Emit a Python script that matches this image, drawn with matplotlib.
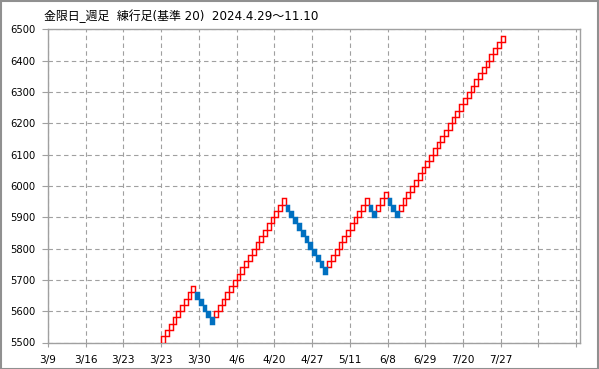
import matplotlib
matplotlib.use("Agg")
import matplotlib.pyplot as plt
from matplotlib.patches import Rectangle

# ---- data ----
title_text = "金限日_週足  練行足(基準 20)  2024.4.29～11.10"
box_size = 20
first_index = 30
brick_low = [
    5500, 5520, 5540, 5560, 5580, 5600, 5620, 5640, 5660,            # up
    5640, 5620, 5600, 5580, 5560,                                      # down
    5580, 5600, 5620, 5640, 5660, 5680, 5700, 5720, 5740, 5760,
    5780, 5800, 5820, 5840, 5860, 5880, 5900, 5920, 5940,              # up
    5920, 5900, 5880, 5860, 5840, 5820, 5800, 5780, 5760, 5740, 5720,  # down
    5740, 5760, 5780, 5800, 5820, 5840, 5860, 5880, 5900, 5920, 5940,  # up
    5920, 5900,                                                        # down
    5920, 5940, 5960,                                                  # up
    5940, 5920, 5900,                                                  # down
    5920, 5940, 5960, 5980, 6000, 6020, 6040, 6060, 6080, 6100,
    6120, 6140, 6160, 6180, 6200, 6220, 6240, 6260, 6280, 6300,
    6320, 6340, 6360, 6380, 6400, 6420, 6440, 6460,                    # up
]
brick_up = (
    [True] * 9 + [False] * 5 + [True] * 19 + [False] * 11 + [True] * 11
    + [False] * 2 + [True] * 3 + [False] * 3 + [True] * 28
)
x_tick_pos = list(range(0, 141, 10))
x_tick_labels = ["3/9", "3/16", "3/23", "3/23", "3/30", "4/6", "4/20", "4/27",
                 "5/11", "6/8", "6/29", "7/20", "7/27", "", ""]
y_ticks = list(range(5500, 6501, 100))

# ---- figure ----
fig = plt.figure(figsize=(5.99, 3.69), dpi=100)
ax = fig.add_axes([48 / 599, 1 - 342.5 / 369, (580 - 48) / 599, (342.5 - 29.3) / 369])

gray = "#a0a0a0"
up_x = [first_index + i for i, u in enumerate(brick_up) if u]
up_low = [brick_low[i] for i, u in enumerate(brick_up) if u]
dn_x = [first_index + i for i, u in enumerate(brick_up) if not u]
dn_low = [brick_low[i] for i, u in enumerate(brick_up) if not u]

ax.bar(up_x, [box_size] * len(up_x), bottom=up_low, width=1, align="edge",
       facecolor="white", edgecolor="#ff0000", linewidth=1.05, zorder=3)
ax.bar(dn_x, [box_size] * len(dn_x), bottom=dn_low, width=1, align="edge",
       facecolor="#0070c0", edgecolor="#0070c0", linewidth=1.05, zorder=3)

ax.set_xlim(0, 141)
ax.set_ylim(5500, 6500)
ax.set_xticks(x_tick_pos)
ax.set_xticklabels(x_tick_labels)
ax.set_yticks(y_ticks)
ax.set_yticklabels([str(v) for v in y_ticks])

ax.grid(True, color=gray, linestyle=(0, (4, 3)), linewidth=0.8, zorder=1)
ax.set_axisbelow(True)
for s in ax.spines.values():
    s.set_color(gray)
    s.set_linewidth(1.0)
ax.tick_params(axis="y", length=4, width=0.8, color=gray, pad=5,
               labelsize=7.2, labelcolor="black")
ax.tick_params(axis="x", length=3, width=0.8, color=gray, pad=6,
               labelsize=7.6, labelcolor="black")
for lab in ax.get_xticklabels() + ax.get_yticklabels():
    lab.set_family(["DejaVu Sans"])

fig.text(44 / 599, 1 - 16.5 / 369, title_text, ha="left", va="center",
         fontsize=8.6, color="black", family=["DejaVu Sans", "Noto Sans CJK JP"])

fig.patches.append(Rectangle((0.001, 0.001), 0.997, 0.997, transform=fig.transFigure,
                             fill=False, edgecolor="#909090", linewidth=1.5))

fig.savefig("out.png", dpi=100)
